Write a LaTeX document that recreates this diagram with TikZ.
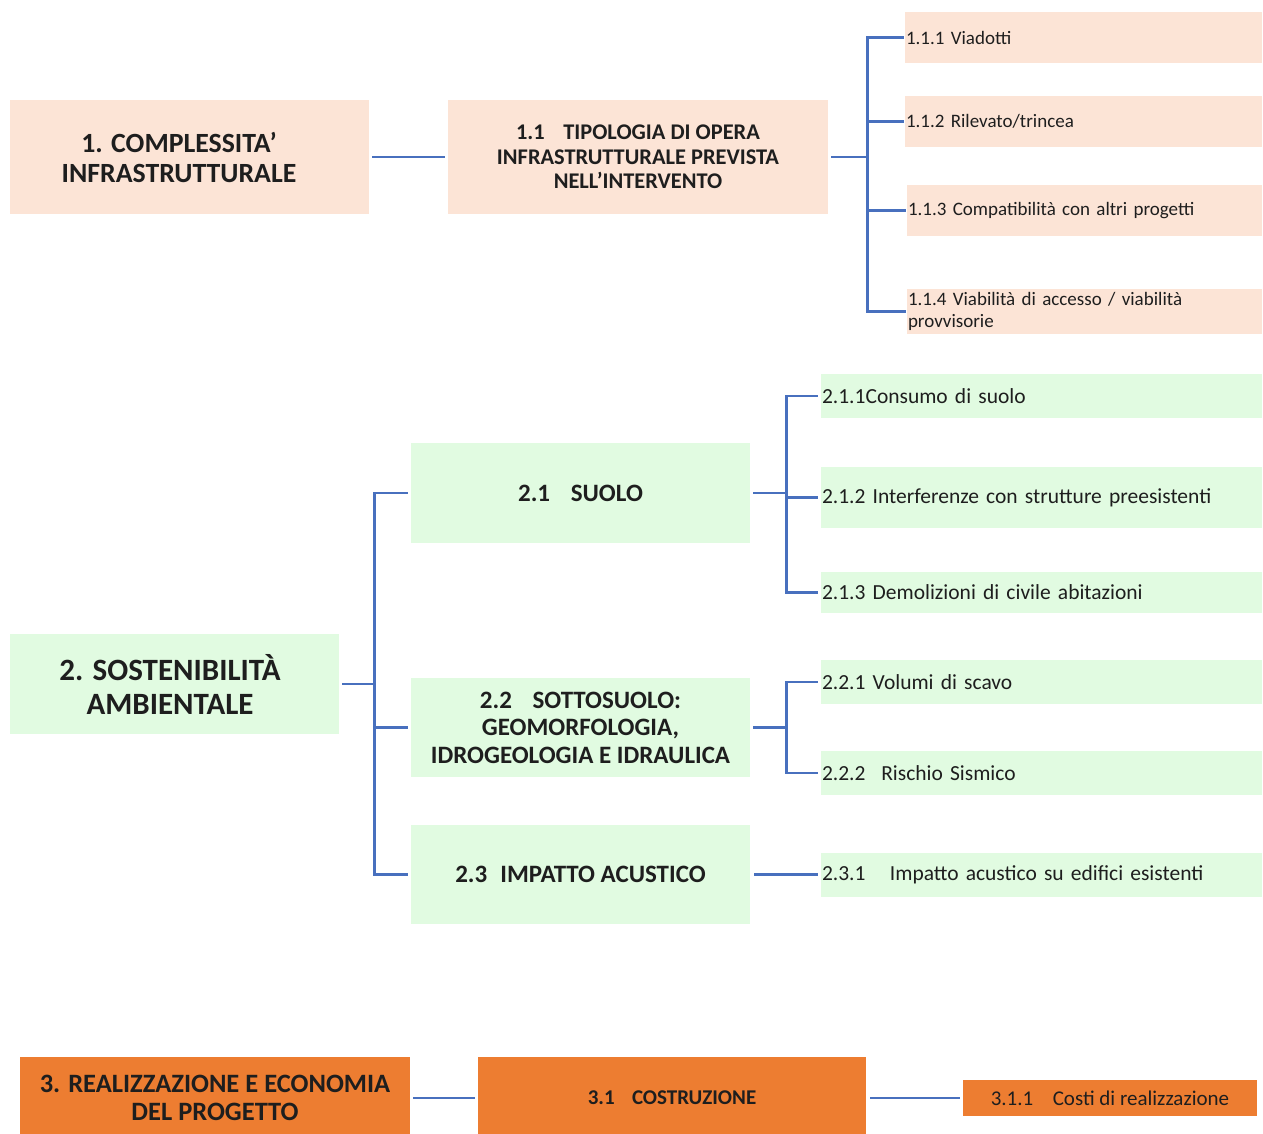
\documentclass[tikz,border=0pt]{standalone}
\usepackage{fontspec}
\setmainfont{Carlito}
\definecolor{peach}{HTML}{FCE4D6}
\definecolor{mint}{HTML}{E1FBE1}
\definecolor{orng}{HTML}{ED7D31}
\definecolor{lnblue}{HTML}{4870BE}
\definecolor{txt}{HTML}{1E1E1E}
\tikzset{
  box/.style={fill=#1, draw=none, inner sep=0pt, text=txt, align=center},
  leaf/.style={fill=#1, draw=none, inner sep=1pt, text=txt, align=left},
  conn/.style={draw=lnblue, line width=2.8pt},
}
\begin{document}
\begin{tikzpicture}[x=1pt,y=-1pt]
\useasboundingbox (0,0) rectangle (1263,1133);
% ---------- Row 1 ----------
\node[box=peach, minimum width=359, minimum height=114, font=\fontsize{27.8}{30}\selectfont\bfseries] (a1) at (189.5,157) {1. COMPLESSITA’\hspace*{21pt}\\INFRASTRUTTURALE\hspace*{21pt}};
\node[box=peach, minimum width=380, minimum height=114, font=\fontsize{22.4}{24.5}\selectfont\bfseries] (b1) at (638,157) {1.1\hspace{0.6em} TIPOLOGIA DI OPERA\\INFRASTRUTTURALE PREVISTA\\NELL’INTERVENTO};
\node[leaf=peach, minimum width=357, minimum height=51, text width=355, font=\fontsize{19}{22}\selectfont] (l111) at (1083.5,37.5) {1.1.1 Viadotti};
\node[leaf=peach, minimum width=357, minimum height=51, text width=355, font=\fontsize{19}{22}\selectfont] (l112) at (1083.5,121.5) {1.1.2 Rilevato/trincea};
\node[leaf=peach, minimum width=355, minimum height=51, text width=353, font=\fontsize{19}{22}\selectfont] (l113) at (1084.5,210.5) {1.1.3 Compatibilità con altri progetti};
\node[leaf=peach, minimum width=355, minimum height=45, text width=353, font=\fontsize{19}{22}\selectfont] (l114) at (1084.5,311.5) {1.1.4 Viabilità di accesso / viabilità\\provvisorie};
\draw[conn] ([xshift=3pt]a1.east) -- ([xshift=-3pt]b1.west);
\draw[conn] ([xshift=3pt]b1.east) -- ([xshift=39pt]b1.east) coordinate (j1);
\draw[conn] (j1) |- ([xshift=-1pt]l111.west);
\draw[conn] (j1) |- ([xshift=-1pt]l112.west);
\draw[conn] (j1) |- ([xshift=-1pt]l113.west);
\draw[conn] (j1) |- ([xshift=-1pt]l114.west);
% ---------- Row 2 ----------
\node[box=mint, minimum width=329, minimum height=100, font=\fontsize{31}{34}\selectfont\bfseries] (a2) at (174.5,684) {2. SOSTENIBILITÀ\hspace*{9pt}\\AMBIENTALE\hspace*{9pt}};
\node[box=mint, minimum width=339, minimum height=100, font=\fontsize{25}{27.5}\selectfont\bfseries] (b21) at (580.5,493) {2.1\hspace{0.6em} SUOLO};
\node[box=mint, minimum width=339, minimum height=99, font=\fontsize{25}{27.5}\selectfont\bfseries] (b22) at (580.5,727.5) {2.2\hspace{0.6em} SOTTOSUOLO:\\GEOMORFOLOGIA,\\IDROGEOLOGIA E IDRAULICA};
\node[box=mint, minimum width=339, minimum height=99, font=\fontsize{25}{27.5}\selectfont\bfseries] (b23) at (580.5,874.5) {2.3\hspace{0.3em} IMPATTO ACUSTICO};
\node[leaf=mint, minimum width=441, minimum height=44, text width=439, font=\fontsize{21.5}{24}\selectfont] (l211) at (1041.5,396) {2.1.1Consumo di suolo};
\node[leaf=mint, minimum width=441, minimum height=61, text width=439, font=\fontsize{21.5}{24}\selectfont] (l212) at (1041.5,497.5) {2.1.2 Interferenze con strutture preesistenti};
\node[leaf=mint, minimum width=441, minimum height=41, text width=439, font=\fontsize{21.5}{24}\selectfont] (l213) at (1041.5,592.5) {2.1.3 Demolizioni di civile abitazioni};
\node[leaf=mint, minimum width=441, minimum height=44, text width=439, font=\fontsize{21.5}{24}\selectfont] (l221) at (1041.5,682) {2.2.1 Volumi di scavo};
\node[leaf=mint, minimum width=441, minimum height=44, text width=439, font=\fontsize{21.5}{24}\selectfont] (l222) at (1041.5,773) {2.2.2\hspace{0.4em} Rischio Sismico};
\node[leaf=mint, minimum width=441, minimum height=44, text width=439, font=\fontsize{21.5}{24}\selectfont] (l231) at (1041.5,874.5) {2.3.1\hspace{0.8em} Impatto acustico su edifici esistenti};
\draw[conn] ([xshift=3pt]a2.east) -- ([xshift=35pt]a2.east) coordinate (j2);
\draw[conn] (j2) |- ([xshift=-3pt]b21.west);
\draw[conn] (j2) |- ([xshift=-3pt]b22.west);
\draw[conn] (j2) |- ([xshift=-3pt]b23.west);
\draw[conn] ([xshift=3pt]b21.east) -- ([xshift=36pt]b21.east) coordinate (j21);
\draw[conn] (j21) |- ([xshift=-3pt]l211.west);
\draw[conn] (j21) |- ([xshift=-3pt]l212.west);
\draw[conn] (j21) |- ([xshift=-3pt]l213.west);
\draw[conn] ([xshift=3pt]b22.east) -- ([xshift=36pt]b22.east) coordinate (j22);
\draw[conn] (j22) |- ([xshift=-3pt]l221.west);
\draw[conn] (j22) |- ([xshift=-3pt]l222.west);
\draw[conn] ([xshift=4pt]b23.east) -- ([xshift=-3pt]l231.west);
% ---------- Row 3 ----------
\node[box=orng, minimum width=390, minimum height=82, font=\fontsize{26.5}{28}\selectfont\bfseries] (a3) at (215,1098) {3. REALIZZAZIONE E ECONOMIA\\DEL PROGETTO};
\node[box=orng, minimum width=388, minimum height=82, font=\fontsize{21}{24}\selectfont\bfseries] (b31) at (672,1098) {3.1\hspace{0.6em} COSTRUZIONE};
\node[box=orng, minimum width=294, minimum height=36, font=\fontsize{21}{24}\selectfont] (l311) at (1110,1098) {3.1.1\hspace{0.7em} Costi di realizzazione};
\draw[conn] ([xshift=3pt]a3.east) -- ([xshift=-3pt]b31.west);
\draw[conn] ([xshift=4pt]b31.east) -- ([xshift=-3pt]l311.west);
\end{tikzpicture}
\end{document}
